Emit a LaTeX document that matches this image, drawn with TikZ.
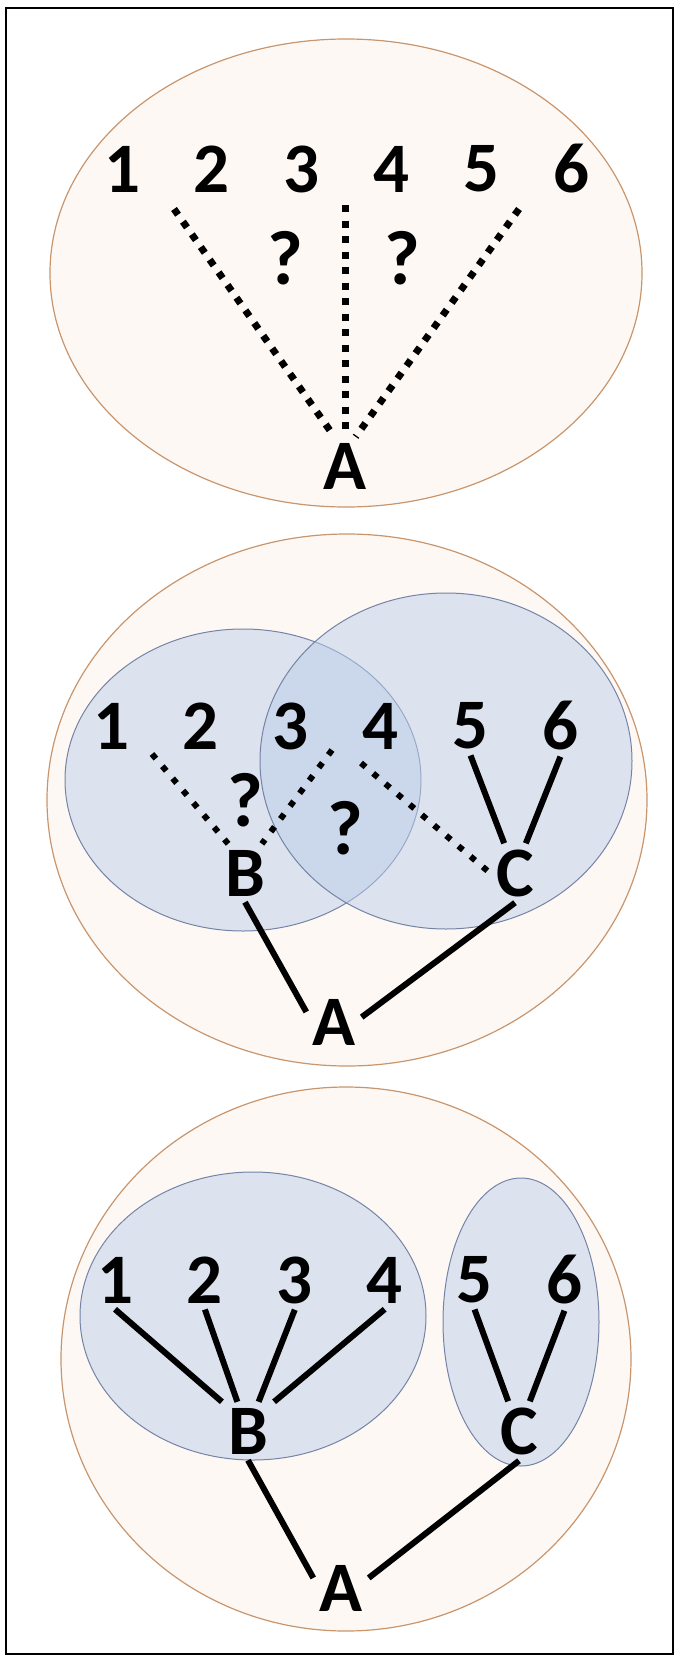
\documentclass[tikz,border=0pt]{standalone}
\usepackage{fontspec}
\setmainfont{Carlito}
\usepackage{tikz}
\usetikzlibrary{positioning}
\definecolor{panel_fill}{HTML}{FEF8F4}
\definecolor{panel_line}{HTML}{C8956C}
\definecolor{cluster_fill}{HTML}{BCCEEA}
\definecolor{cluster_line}{HTML}{7584A6}
\tikzset{label/.style={font=\bfseries\fontsize{71}{80}\selectfont, inner sep=6pt}}
\tikzset{query/.style={font=\bfseries\fontsize{77}{80}\selectfont, inner sep=6pt}}
\tikzset{panel/.style={draw=panel_line, fill=panel_fill, line width=1.2pt}}
\tikzset{cluster/.style={draw=cluster_line, fill=cluster_fill, fill opacity=0.5, line width=1pt}}
\tikzset{link/.style={line width=6pt}}
\tikzset{guess/.style={line width=7pt, dash pattern=on 7pt off 8.5pt}}

\begin{document}
\begin{tikzpicture}[x=1pt, y=-1pt, node distance=0 and 41.5pt]
  \useasboundingbox (0,0) rectangle (681,1659);
  \draw[line width=2pt] (6,8) rectangle (673,1654);

  % three panels
  \draw[panel] (346,273) ellipse [x radius=296pt, y radius=234pt];
  \draw[panel] (347,800) ellipse [x radius=300pt, y radius=266pt];
  \draw[panel] (346,1359) ellipse [x radius=285pt, y radius=272pt];

  \draw[cluster] (243,780) ellipse [x radius=178pt, y radius=151pt];
  \draw[cluster] (446,761) ellipse [x radius=186pt, y radius=168pt];
  \draw[cluster] (253,1316) ellipse [x radius=173pt, y radius=144pt];
  \draw[cluster] (521,1322) ellipse [x radius=78pt, y radius=144pt];

  % top panel
  \node[label] (top-1) at (122,169) {1};
  \node[label, right=of top-1] (top-2) {2};
  \node[label, right=of top-2] (top-3) {3};
  \node[label, right=of top-3] (top-4) {4};
  \node[label, right=of top-4] (top-5) {5};
  \node[label, right=of top-5] (top-6) {6};
  \node[query] (top-q1) at (285,258) {?};
  \node[query] (top-q2) at (402,258) {?};
  \node[label] (top-A) at (345,466) {A};
  \coordinate (top-g1) at (174,209);
  \coordinate (top-g2) at (345,205);
  \coordinate (top-g3) at (519,209);

  \draw[guess] (top-g1) -- (top-A.110);
  \draw[guess] (top-g2) -- (top-A.north);
  \draw[guess] (top-g3) -- (top-A.70);

  % middle panel
  \node[label] (mid-1) at (111,726) {1};
  \node[label, right=of mid-1] (mid-2) {2};
  \node[label, right=of mid-2] (mid-3) {3};
  \node[label, right=of mid-3] (mid-4) {4};
  \node[label, right=of mid-4] (mid-5) {5};
  \node[label, right=of mid-5] (mid-6) {6};
  \node[query] (mid-q1) at (245,800) {?};
  \node[query] (mid-q2) at (345,828) {?};
  \node[label] (mid-B) at (245,873) {B};
  \node[label] (mid-C) at (515,873) {C};
  \node[label] (mid-A) at (334,1022) {A};
  \coordinate (mid-g1) at (152,754);
  \coordinate (mid-g2) at (332,750);
  \coordinate (mid-g3) at (361,763);

  \draw[guess, line width=6pt, dash pattern=on 6pt off 10pt] (mid-g1) -- (mid-B.120);
  \draw[guess, line width=6pt, dash pattern=on 6pt off 10pt] (mid-g2) -- (mid-B.60);
  \draw[guess, line width=6pt, dash pattern=on 6pt off 10pt] (mid-g3) -- (mid-C.west);
  \draw[link] (mid-5.south) -- (mid-C.110);
  \draw[link] (mid-6.south) -- (mid-C.70);
  \draw[link] (mid-B.south) -- (mid-A.160);
  \draw[link] (mid-C.south) -- (mid-A.10);

  % bottom panel
  \node[label] (bot-1) at (115,1280) {1};
  \node[label, right=of bot-1] (bot-2) {2};
  \node[label, right=of bot-2] (bot-3) {3};
  \node[label, right=of bot-3] (bot-4) {4};
  \node[label, right=of bot-4] (bot-5) {5};
  \node[label, right=of bot-5] (bot-6) {6};
  \node[label] (bot-B) at (248,1431) {B};
  \node[label] (bot-C) at (519,1431) {C};
  \node[label] (bot-A) at (341,1588) {A};

  \draw[link] (bot-1.south) -- (bot-B.north west);
  \draw[link] (bot-2.south) -- (bot-B.110);
  \draw[link] (bot-3.south) -- (bot-B.70);
  \draw[link] (bot-4.south) -- (bot-B.north east);
  \draw[link] (bot-5.south) -- (bot-C.110);
  \draw[link] (bot-6.south) -- (bot-C.70);
  \draw[link] (bot-B.south) -- (bot-A.160);
  \draw[link] (bot-C.south) -- (bot-A.20);
\end{tikzpicture}
\end{document}
